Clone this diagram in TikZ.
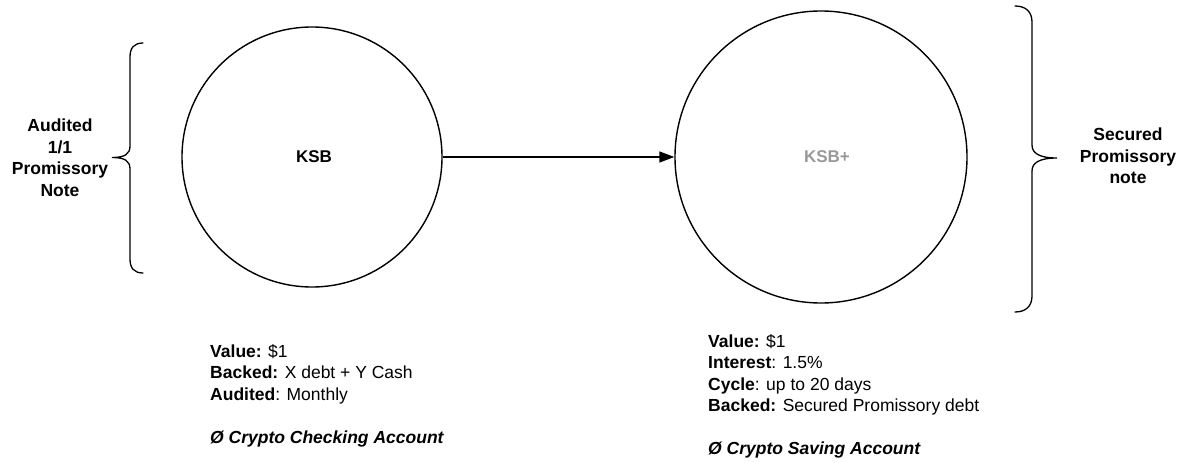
\documentclass[tikz,border=0pt]{standalone}
\usepackage{fontspec}
\setmainfont{Liberation Sans}
\usetikzlibrary{arrows.meta}
\begin{document}
\begin{tikzpicture}[x=1pt,y=-1pt,
  token/.style={circle,draw=black,line width=1.4pt,minimum size=#1,inner sep=0pt},
  tokenname/.style={font=\fontsize{17}{20}\selectfont\bfseries},
  bracelabel/.style={font=\fontsize{17.5}{21.5}\selectfont\bfseries,align=center,inner sep=0pt},
  infotext/.style={font=\fontsize{17.5}{21.5}\selectfont,align=left,inner sep=0pt,anchor=north west},
  brace/.style={draw=black,line width=1.3pt,line cap=round},
  flow/.style={draw=black,line width=1.4pt,-{Triangle[length=15pt,width=11pt]}}]
\useasboundingbox (0,0) rectangle (1197,463);

% tokens
\node[token=260pt] (ksb) at (312,157) {};
\node[tokenname] at (314,157) {KSB};
\node[token=292pt] (ksbp) at (821,157) {};
\node[tokenname,text=black!40] at (827,157) {KSB+};

\draw[flow] (ksb.east) -- (ksbp.west);

% left brace
\draw[brace] (143,43) .. controls (134,43) and (130,48) .. (130,57)
  -- (130,146) .. controls (130,154) and (125,157.5) .. (112,157.5)
  .. controls (125,157.5) and (130,161) .. (130,169)
  -- (130,259) .. controls (130,268) and (134,273) .. (143,273);
\node[bracelabel] (auditnote) at (60,157.5) {Audited\\1/1\\Promissory\\Note};

% right brace
\draw[brace] (1015,6) .. controls (1026,6) and (1032,12) .. (1032,22)
  -- (1032,145) .. controls (1032,153) and (1039,158) .. (1057,158)
  .. controls (1039,158) and (1032,163) .. (1032,171)
  -- (1032,296) .. controls (1032,306) and (1026,312) .. (1015,312);
\node[bracelabel] (securednote) at (1128,156) {Secured\\Promissory\\note};

% token descriptions
\node[infotext] (ksbinfo) at (210,344)
  {\textbf{Value:} \$1\\
   \textbf{Backed:} X debt + Y Cash\\
   \textbf{Audited}: Monthly\\[21.5pt]
   \textbf{\itshape Ø Crypto Checking Account}};
\node[infotext] (ksbpinfo) at (708,334)
  {\textbf{Value:} \$1\\
   \textbf{Interest}: 1.5\%\\
   \textbf{Cycle}: up to 20 days\\
   \textbf{Backed:} Secured Promissory debt\\[21.5pt]
   \textbf{\itshape Ø Crypto Saving Account}};
\end{tikzpicture}
\end{document}
